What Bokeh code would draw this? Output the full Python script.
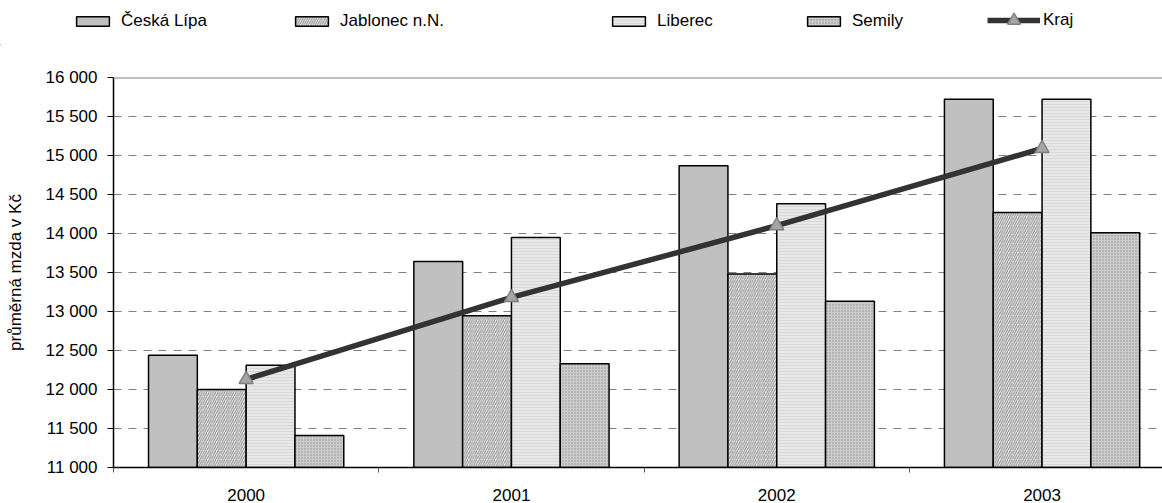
from bokeh.plotting import figure
from bokeh.layouts import column, row
from bokeh.models import Legend, LegendItem, FixedTicker, Span
from bokeh.embed import file_html
from bokeh.resources import INLINE

years = ["2000", "2001", "2002", "2003"]
series_names = ["Česká Lípa", "Jablonec n.N.", "Liberec", "Semily"]
ceska_lipa = [12440, 13640, 14870, 15720]
jablonec = [12000, 12945, 13480, 14270]
liberec = [12310, 13950, 14380, 15720]
semily = [11410, 12330, 13130, 14010]
kraj = [12130, 13180, 14100, 15090]
y_ticks = [11000, 11500, 12000, 12500, 13000, 13500, 14000, 14500, 15000, 15500, 16000]
y_title = "průměrná mzda v Kč"

FONT = "Liberation Sans"
FS = "17px"
n = len(years)
centers = [i + 0.5 for i in range(n)]
bar_w = 0.184
y0, y1 = y_ticks[0], y_ticks[-1]

styles = [
    dict(fill_color="#c0c0c0"),
    dict(fill_color="#ececec", hatch_pattern="/", hatch_color="#8c8c8c", hatch_scale=4.5, hatch_weight=1),
    dict(fill_color="#e8e8e8", hatch_pattern="-", hatch_color="#d4d4d4", hatch_scale=3, hatch_weight=0.8),
    dict(fill_color="#cdcdcd", hatch_pattern=".", hatch_color="#8f8f8f", hatch_scale=3, hatch_weight=0.8),
]
line_style = dict(line_color="#333333", line_width=5.5)
marker_style = dict(marker="triangle", size=14, fill_color="#a6a6a6", line_color="#808080", line_width=1.5)

# ---------------- main chart ----------------
p = figure(width=1162, height=458, output_backend="svg", toolbar_location=None,
           x_range=(0, 3.954), y_range=(y0, y1),
           min_border_left=113, min_border_right=0, min_border_top=32, min_border_bottom=36)
p.outline_line_color = None
p.background_fill_color = "white"

p.xgrid.grid_line_color = None
p.ygrid.ticker = FixedTicker(ticks=y_ticks[1:-1])
p.ygrid.grid_line_color = "#808080"
p.ygrid.grid_line_dash = "8 7"
p.ygrid.grid_line_width = 1
p.add_layout(Span(location=y1, dimension="width", line_color="#808080", line_width=2))

datas = [ceska_lipa, jablonec, liberec, semily]
for k, (vals, st) in enumerate(zip(datas, styles)):
    off = (k - 1.5) * bar_w
    xs = [c + off for c in centers]
    p.vbar(x=xs, top=vals, bottom=y0, width=bar_w, line_color="black", line_width=1.5, **st)

p.line(centers, kraj, **line_style)
p.scatter(centers, kraj, **marker_style)

xa = p.xaxis[0]
xa.ticker = FixedTicker(ticks=centers, minor_ticks=list(range(n + 1)))
xa.major_label_overrides = {c: y for c, y in zip(centers, years)}
xa.major_tick_out = 0
xa.major_tick_in = 0
xa.minor_tick_out = 5
xa.minor_tick_in = 0
xa.minor_tick_line_color = "#555555"
xa.axis_line_color = "black"
xa.axis_line_width = 1.5
xa.major_label_text_font = FONT
xa.major_label_text_font_size = FS
xa.major_label_text_color = "black"
xa.major_label_standoff = 16

ya = p.yaxis[0]
ya.ticker = FixedTicker(ticks=y_ticks)
ya.major_label_overrides = {v: f"{v:,}".replace(",", " ") for v in y_ticks}
ya.major_tick_out = 6
ya.major_tick_in = 0
ya.minor_tick_line_color = None
ya.axis_line_color = "black"
ya.axis_line_width = 1.5
ya.major_label_text_font = FONT
ya.major_label_text_font_size = FS
ya.major_label_text_color = "black"
ya.major_label_standoff = 10
ya.axis_label = y_title
ya.axis_label_text_font = FONT
ya.axis_label_text_font_size = "17px"
ya.axis_label_text_font_style = "normal"
ya.axis_label_text_color = "black"
ya.axis_label_standoff = 18

# ---------------- legend strip ----------------
lg = figure(width=1162, height=45, output_backend="svg", toolbar_location=None,
            x_range=(0, 1), y_range=(0, 1), x_axis_type=None, y_axis_type=None,
            min_border_left=0, min_border_right=0, min_border_top=0, min_border_bottom=0)
lg.outline_line_color = None
lg.grid.visible = False

# proxy renderers (kept outside the visible range; used only for legend swatches)
px, py = [-10], [-10]
legend_x = [72, 291, 608, 803, 987]
for k, st in enumerate(styles):
    r = lg.vbar(x=px, top=py, bottom=py, width=0.1, line_color="black", line_width=1.5, **st)
    lg.add_layout(Legend(items=[LegendItem(label=series_names[k], renderers=[r])],
                         location=(legend_x[k], 14), glyph_width=41, glyph_height=12,
                         label_standoff=8, padding=0, margin=0, border_line_color=None,
                         background_fill_alpha=0, label_text_font=FONT,
                         label_text_font_size=FS, label_text_color="black"), "center")
rl = lg.line(x=px, y=py, **line_style)
rs = lg.scatter(x=px, y=py, **marker_style)
lg.add_layout(Legend(items=[LegendItem(label="Kraj", renderers=[rl, rs])],
                     location=(legend_x[4], 9), glyph_width=53, glyph_height=32,
                     label_standoff=3, padding=0, margin=0, border_line_color=None,
                     background_fill_alpha=0, label_text_font=FONT,
                     label_text_font_size=FS, label_text_color="black"), "center")

layout = column(row(lg), p, spacing=0)
open("out.html", "w").write(file_html(layout, INLINE))
